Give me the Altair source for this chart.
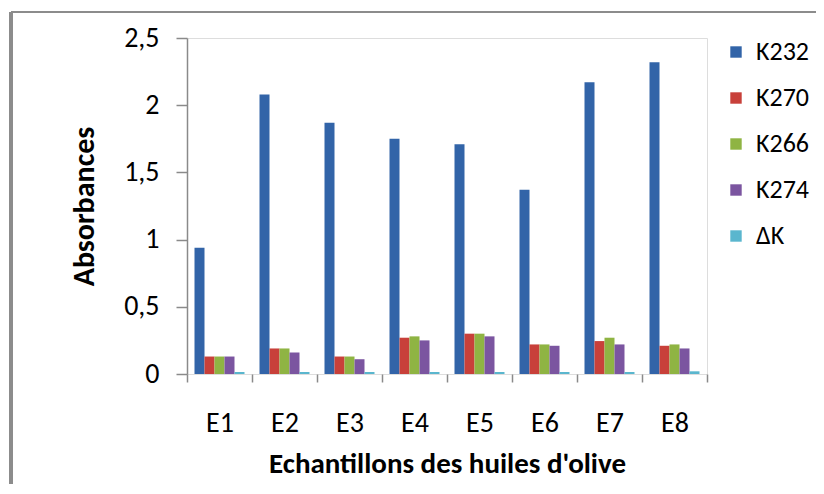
import altair as alt
import pandas as pd

samples = ["E1", "E2", "E3", "E4", "E5", "E6", "E7", "E8"]
series = ["K232", "K270", "K266", "K274", " ΔK"]
k232 = [0.94, 2.08, 1.87, 1.75, 1.71, 1.37, 2.17, 2.32]
k270 = [0.13, 0.19, 0.13, 0.27, 0.30, 0.22, 0.245, 0.21]
k266 = [0.13, 0.19, 0.13, 0.28, 0.30, 0.22, 0.27, 0.22]
k274 = [0.13, 0.16, 0.11, 0.25, 0.28, 0.21, 0.22, 0.19]
dk = [0.015, 0.015, 0.015, 0.015, 0.015, 0.015, 0.015, 0.02]
colors = ["#3264A8", "#C8403A", "#8FB443", "#7B55A0", "#5AB6CE"]
y_ticks = [0, 0.5, 1, 1.5, 2, 2.5]

rows = []
for name, vals in zip(series, [k232, k270, k266, k274, dk]):
    for s, v in zip(samples, vals):
        rows.append({"Echantillon": s, "Serie": name, "Valeur": v})
df = pd.DataFrame(rows)

FONT = "Carlito, Liberation Sans Narrow, Liberation Sans, sans-serif"

bars = alt.Chart(df).mark_bar(size=10).encode(
    x=alt.X("Echantillon:N", sort=samples,
            scale=alt.Scale(paddingInner=0, paddingOuter=0),
            axis=alt.Axis(title="Echantillons des huiles d'olive", labelAngle=0,
                          domain=False, ticks=True, tickBand="extent", tickSize=8,
                          tickColor="#8a8a8a", tickWidth=1.5,
                          labelPadding=27, labelFontSize=28, labelColor="#000",
                          labelFont=FONT, labelFontWeight="normal",
                          titleFont=FONT, titleFontSize=29, titleFontWeight="bold",
                          titleColor="#000", titleX=260, titleY=89,
                          titleBaseline="middle", titleAlign="center")),
    xOffset=alt.XOffset("Serie:N", sort=series,
                        scale=alt.Scale(paddingInner=0, paddingOuter=0.75)),
    y=alt.Y("Valeur:Q", scale=alt.Scale(domain=[0, 2.5], nice=False),
            axis=alt.Axis(title="Absorbances", values=y_ticks, grid=False,
                          domain=True, domainColor="#8a8a8a", domainWidth=1.5,
                          tickSize=11, tickColor="#8a8a8a", tickWidth=1.5,
                          labelPadding=17, labelFontSize=28, labelColor="#000",
                          labelFont=FONT,
                          labelExpr="replace(format(datum.value, '~g'), '.', ',')",
                          titleFont=FONT, titleFontSize=30, titleFontWeight="bold",
                          titleColor="#000", titleAngle=270, titleX=-103, titleY=168,
                          titleBaseline="middle", titleAlign="center")),
    color=alt.Color("Serie:N", sort=series,
                    scale=alt.Scale(domain=series, range=colors),
                    legend=alt.Legend(title=None, orient="none", legendX=536, legendY=1,
                                      symbolType="square", symbolSize=130,
                                      symbolStrokeWidth=0, symbolOpacity=1,
                                      labelFont=FONT, labelFontSize=26, labelColor="#000",
                                      labelOffset=7, rowPadding=20, padding=0)),
)

frame = alt.Chart(alt.Data(values=[{"a": 1}])).mark_rule(color="#8c8c8c", strokeWidth=4).encode(
    x=alt.value(-176), y=alt.value(-26), y2=alt.value(460)
)
frame_top = alt.Chart(alt.Data(values=[{"a": 1}])).mark_rule(color="#8c8c8c", strokeWidth=2).encode(
    x=alt.value(-176), x2=alt.value(640), y=alt.value(-26)
)

chart = alt.layer(frame, frame_top, bars).properties(
    width=520, height=336,
    autosize=alt.AutoSizeParams(type="none"),
    padding={"left": 179, "top": 30, "right": 109, "bottom": 110},
).configure_view(stroke=None).configure(background="white")

chart.save("out.html", embed_options={"renderer": "svg", "actions": False})
